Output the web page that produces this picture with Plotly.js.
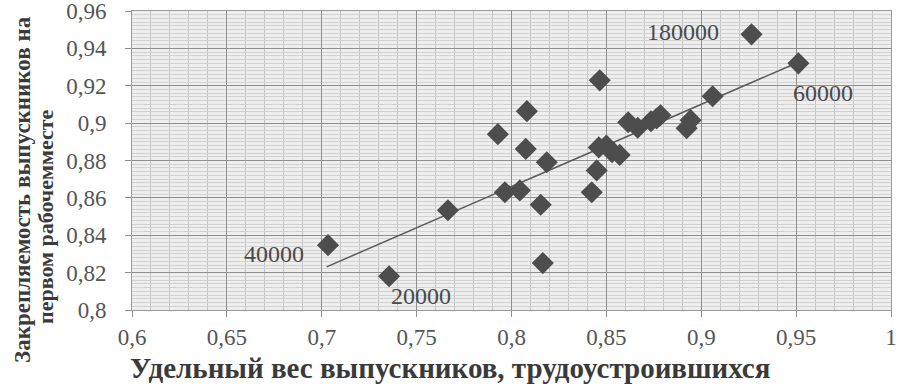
<!DOCTYPE html>
<html><head><meta charset="utf-8">
<script src="https://cdn.plot.ly/plotly-3.0.1.min.js"></script>
<style>html,body{margin:0;padding:0;background:#fff}#c{width:899px;height:388px}</style>
</head><body><div id="c"></div>
<script>
// Data
const shareEmployed = [0.7033,0.7355,0.7665,0.7928,0.7965,0.8044,0.8081,0.8075,0.8186,0.8154,0.8165,0.8423,0.8449,0.8465,0.846,0.850,0.853,0.857,0.8615,0.8665,0.8735,0.8765,0.8785,0.8944,0.8923,0.906,0.9265,0.9512];
const retention     = [0.8347,0.8181,0.8534,0.8941,0.8630,0.8640,0.9064,0.8862,0.8791,0.8563,0.8251,0.8630,0.8747,0.9229,0.887,0.888,0.8845,0.883,0.9005,0.8975,0.9010,0.9025,0.9042,0.9016,0.8973,0.9144,0.9475,0.9320];
const trendX = [0.7026, 0.9512];
const trendY = [0.8231, 0.9326];
const labelTexts = ["40000","20000","180000","60000"];
const labelX = [0.7033,0.7355,0.9265,0.9512];
const labelY = [0.8347,0.8181,0.9475,0.9320];
const xTickVals = [0.6,0.65,0.7,0.75,0.8,0.85,0.9,0.95,1];
const xTickText = ["0,6","0,65","0,7","0,75","0,8","0,85","0,9","0,95","1"];
const yTickVals = [0.8,0.82,0.84,0.86,0.88,0.9,0.92,0.94,0.96];
const yTickText = ["0,8","0,82","0,84","0,86","0,88","0,9","0,92","0,94","0,96"];
const xTitle = "Удельный вес выпускников, трудоустроившихся";
const yTitle1 = "Закрепляемость выпускников на";
const yTitle2 = "первом рабочемместе";

const serif = '"Liberation Serif", "Times New Roman", serif';
const labelOffsets = [[-54,-9],[32,-20],[-69,2],[25,-30]];
const annotations = labelTexts.map((t,i)=>({
  x: labelX[i], y: labelY[i], xref:'x', yref:'y', text: t, showarrow:false,
  xshift: labelOffsets[i][0], yshift: labelOffsets[i][1],
  font:{family:serif,size:24,color:'#4a4a4a'}
}));
const W = 759, H = 299, L = 132, T = 11;
annotations.push({xref:'paper',yref:'paper',x:(450-L)/W,y:(T+H-368)/H,yanchor:'middle',xanchor:'center',text:'<b>'+xTitle+'</b>',showarrow:false,
  font:{family:serif,size:29,color:'#3a3a3a'}});
annotations.push({xref:'paper',yref:'paper',x:(22-L)/W,y:(T+H-190)/H,xanchor:'center',yanchor:'middle',text:'<b>'+yTitle1+'</b>',showarrow:false,textangle:-90,
  font:{family:serif,size:23,color:'#3a3a3a'}});
annotations.push({xref:'paper',yref:'paper',x:(45-L)/W,y:(T+H-217)/H,xanchor:'center',yanchor:'middle',text:'<b>'+yTitle2+'</b>',showarrow:false,textangle:-90,
  font:{family:serif,size:22,color:'#3a3a3a'}});

const data = [
  {x: trendX, y: trendY, mode:'lines', type:'scatter', line:{color:'#5a5a5a', width:1.5}, hoverinfo:'skip'},
  {x: shareEmployed, y: retention, mode:'markers', type:'scatter',
   marker:{symbol:'diamond', size:17, color:'#4d4d4d', line:{width:0}}}
];
const layout = {
  width:899, height:388, showlegend:false,
  margin:{l:L, r:8, t:T, b:78},
  paper_bgcolor:'#ffffff', plot_bgcolor:'#eeeeee',
  xaxis:{range:[0.6,1], tickmode:'array', tickvals:xTickVals, ticktext:xTickText, showgrid:true, gridcolor:'#8f8f8f', gridwidth:1,
    minor:{tickmode:'linear', tick0:0.6, dtick:0.01, showgrid:true, gridcolor:'#c4c4c4', gridwidth:1},
    ticks:'outside', ticklen:6, tickcolor:'#8f8f8f', showline:true, linecolor:'#9a9a9a', mirror:true, zeroline:false,
    tickfont:{family:serif,size:23,color:'#555555'}, ticklabelstandoff:0, ticklabeloverflow:'allow'},
  yaxis:{range:[0.8,0.96], tickmode:'array', tickvals:yTickVals, ticktext:yTickText, showgrid:true, gridcolor:'#8f8f8f', gridwidth:1,
    minor:{tickmode:'linear', tick0:0.8, dtick:0.002, showgrid:true, gridcolor:'#d2d2d2', gridwidth:1},
    ticks:'outside', ticklen:6, tickcolor:'#8f8f8f', showline:true, linecolor:'#9a9a9a', mirror:true, zeroline:false,
    tickfont:{family:serif,size:23,color:'#555555'}, ticklabelstandoff:14, ticklabeloverflow:'allow'},
  annotations: annotations
};
Plotly.newPlot('c', data, layout, {staticPlot:true, displayModeBar:false});
</script></body></html>
